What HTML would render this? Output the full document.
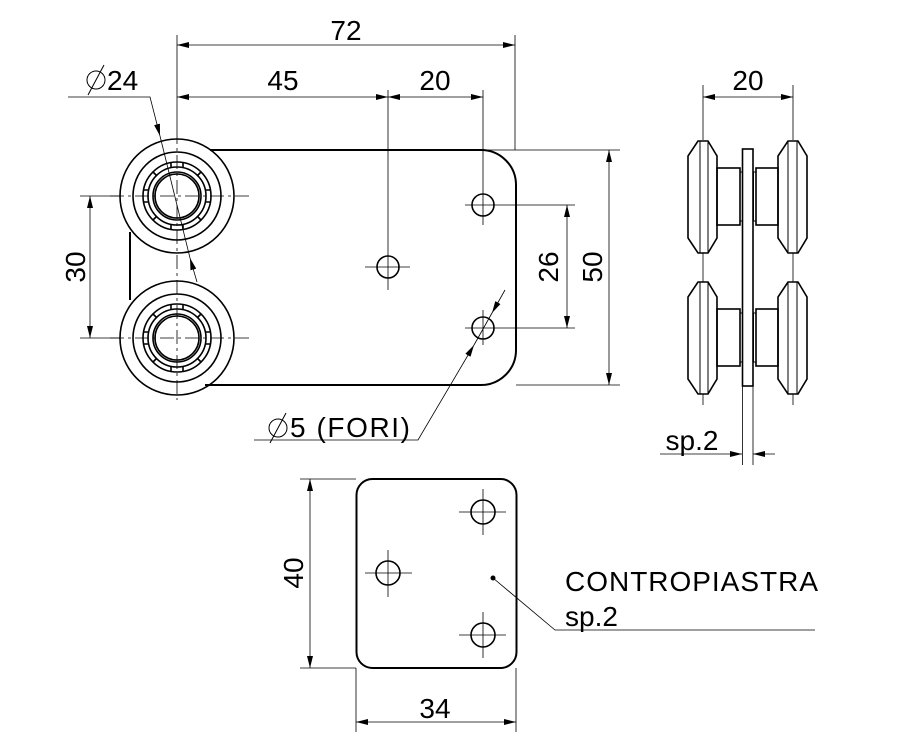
<!DOCTYPE html>
<html><head><meta charset="utf-8"><style>
html,body{margin:0;padding:0;background:#fff;}
svg{display:block;}
text{font-family:"Liberation Sans",sans-serif;fill:#000;}
</style></head><body>
<svg width="900" height="750" viewBox="0 0 900 750" xmlns="http://www.w3.org/2000/svg">
<defs>
<marker id="a" viewBox="0 0 12 6" refX="12" refY="3" markerWidth="12" markerHeight="6" orient="auto-start-reverse" markerUnits="userSpaceOnUse"><path d="M0,0 L12,3 L0,6 z" fill="#000"/></marker>
</defs>
<g fill="none" stroke="#000">
<path d="M210,150 H481 A35,35 0 0 1 516,185 V350 A35,35 0 0 1 481,385 H205 M130,232 V300" stroke-width="2"/>
<g id="w1" stroke-width="1.6">
<circle cx="177" cy="196" r="57"/>
<circle cx="177" cy="196" r="44"/>
<circle cx="177" cy="196" r="34"/>
<circle cx="177" cy="196" r="29"/>
<circle cx="177" cy="196" r="24"/>
<circle cx="177" cy="196" r="22"/>
<path d="M171,162 v5 M183,162 v5 M171,225 v5 M183,225 v5 M143,190 h5 M143,202 h5 M206,190 h5 M206,202 h5 M153,172 l4,4 M201,172 l-4,4 M153,220 l4,-4 M201,220 l-4,-4"/>
</g>
<use href="#w1" transform="translate(0,142)"/>
<circle cx="483" cy="205" r="11" stroke-width="1.6"/>
<circle cx="483" cy="328" r="11" stroke-width="1.6"/>
<circle cx="388" cy="267" r="11" stroke-width="1.6"/>
</g>
<g fill="none" stroke="#000" stroke-width="0.8">
<path d="M110,196 H250 M110,338 H250 M177,130 V400" stroke-dasharray="14,4,3,4"/>
<path d="M365,267 H410 M388,90 V290 M465,205 H575 M465,328 H575 M483,90 V225 M483,310 V345"/>
<path d="M177,35 V130 M515,35 V150 M481,150 H620"/>
<path d="M177,45 H515" marker-start="url(#a)" marker-end="url(#a)"/>
<path d="M177,97 H388" marker-start="url(#a)" marker-end="url(#a)"/>
<path d="M388,97 H483" marker-start="url(#a)" marker-end="url(#a)"/>
<path d="M68,97 H150 L160,136" marker-end="url(#a)"/>
<path d="M160,136 L190,258"/>
<path d="M197,282 L190,258" marker-end="url(#a)"/>
<path d="M80,196 H120 M80,338 H120"/>
<path d="M90,196 V338" marker-start="url(#a)" marker-end="url(#a)"/>
<path d="M567,205 V328" marker-start="url(#a)" marker-end="url(#a)"/>
<path d="M516,385 H620"/>
<path d="M609,150 V385" marker-start="url(#a)" marker-end="url(#a)"/>
<path d="M254,440 H418 L474,345" marker-end="url(#a)"/>
<path d="M474,345 L492,313"/>
<path d="M505,290 L492,313" marker-end="url(#a)"/>
</g>
<g font-size="28">
<text x="346" y="40" text-anchor="middle">72</text>
<text x="283" y="90" text-anchor="middle">45</text>
<text x="435" y="90" text-anchor="middle">20</text>
<text x="107" y="90">24</text>
<text x="290" y="437" textLength="120">5 (FORI)</text>
<text transform="translate(85,267) rotate(-90)" text-anchor="middle">30</text>
<text transform="translate(558,267) rotate(-90)" text-anchor="middle">26</text>
<text transform="translate(602,267) rotate(-90)" text-anchor="middle">50</text>
<text x="748" y="90" text-anchor="middle">20</text>
<text x="692" y="450" text-anchor="middle">sp.2</text>
<text transform="translate(303,573) rotate(-90)" text-anchor="middle">40</text>
<text x="435" y="718" text-anchor="middle">34</text>
<text x="565" y="591" textLength="253">CONTROPIASTRA</text>
<text x="565" y="626">sp.2</text>
</g>
<g fill="none" stroke="#000" stroke-width="1">
<circle cx="96" cy="80" r="9"/><path d="M88,95 L104,65"/>
<circle cx="278" cy="428" r="9"/><path d="M270,443 L286,413"/>
</g>
<g fill="none" stroke="#000" stroke-width="1.6">
<g id="sw">
<path d="M698,141 H708 L717,156 V238 L708,253 H698 L688,238 V156 Z"/>
<path d="M700,141 V253 M708,141 V253" stroke-width="1"/>
<rect x="717" y="168" width="23" height="57"/>
<rect x="740" y="172" width="2.5" height="49" stroke-width="1"/>
<path d="M788,141 H798 L807,156 V238 L798,253 H788 L778,238 V156 Z"/>
<path d="M788,141 V253 M797,141 V253" stroke-width="1"/>
<rect x="756" y="168" width="22" height="57"/>
<rect x="753.5" y="172" width="2.5" height="49" stroke-width="1"/>
</g>
<use href="#sw" transform="translate(0,141)"/>
<rect x="742.5" y="149" width="10.5" height="237"/>
</g>
<g fill="none" stroke="#000" stroke-width="0.8">
<path d="M703,85 V140 M793,85 V140 M703,253 V282 M793,253 V282 M703,394 V405 M793,394 V405" />
<path d="M703,97 H793" marker-start="url(#a)" marker-end="url(#a)"/>
<path d="M742.5,386 V465 M753,386 V465"/>
<path d="M660,454 H742" marker-end="url(#a)"/>
<path d="M775,454 H753" marker-end="url(#a)"/>
</g>
<g fill="none" stroke="#000">
<rect x="356.5" y="479" width="160" height="189" rx="16" stroke-width="2"/>
<circle cx="483" cy="512" r="12" stroke-width="1.6"/>
<circle cx="388" cy="573" r="12" stroke-width="1.6"/>
<circle cx="483" cy="635" r="12" stroke-width="1.6"/>
</g>
<g fill="none" stroke="#000" stroke-width="0.8">
<path d="M459,512 H506 M483,489 V535 M365,573 H412 M388,550 V597 M459,635 H506 M483,612 V658"/>
<path d="M300,479 H356 M300,668 H356 M356,668 V732 M516,668 V732"/>
<path d="M310,479 V668" marker-start="url(#a)" marker-end="url(#a)"/>
<path d="M356,722 H516" marker-start="url(#a)" marker-end="url(#a)"/>
<path d="M493,578 L555,630 H815"/>
</g>
<circle cx="493" cy="578" r="2.5" fill="#000"/>
</svg>
</body></html>
